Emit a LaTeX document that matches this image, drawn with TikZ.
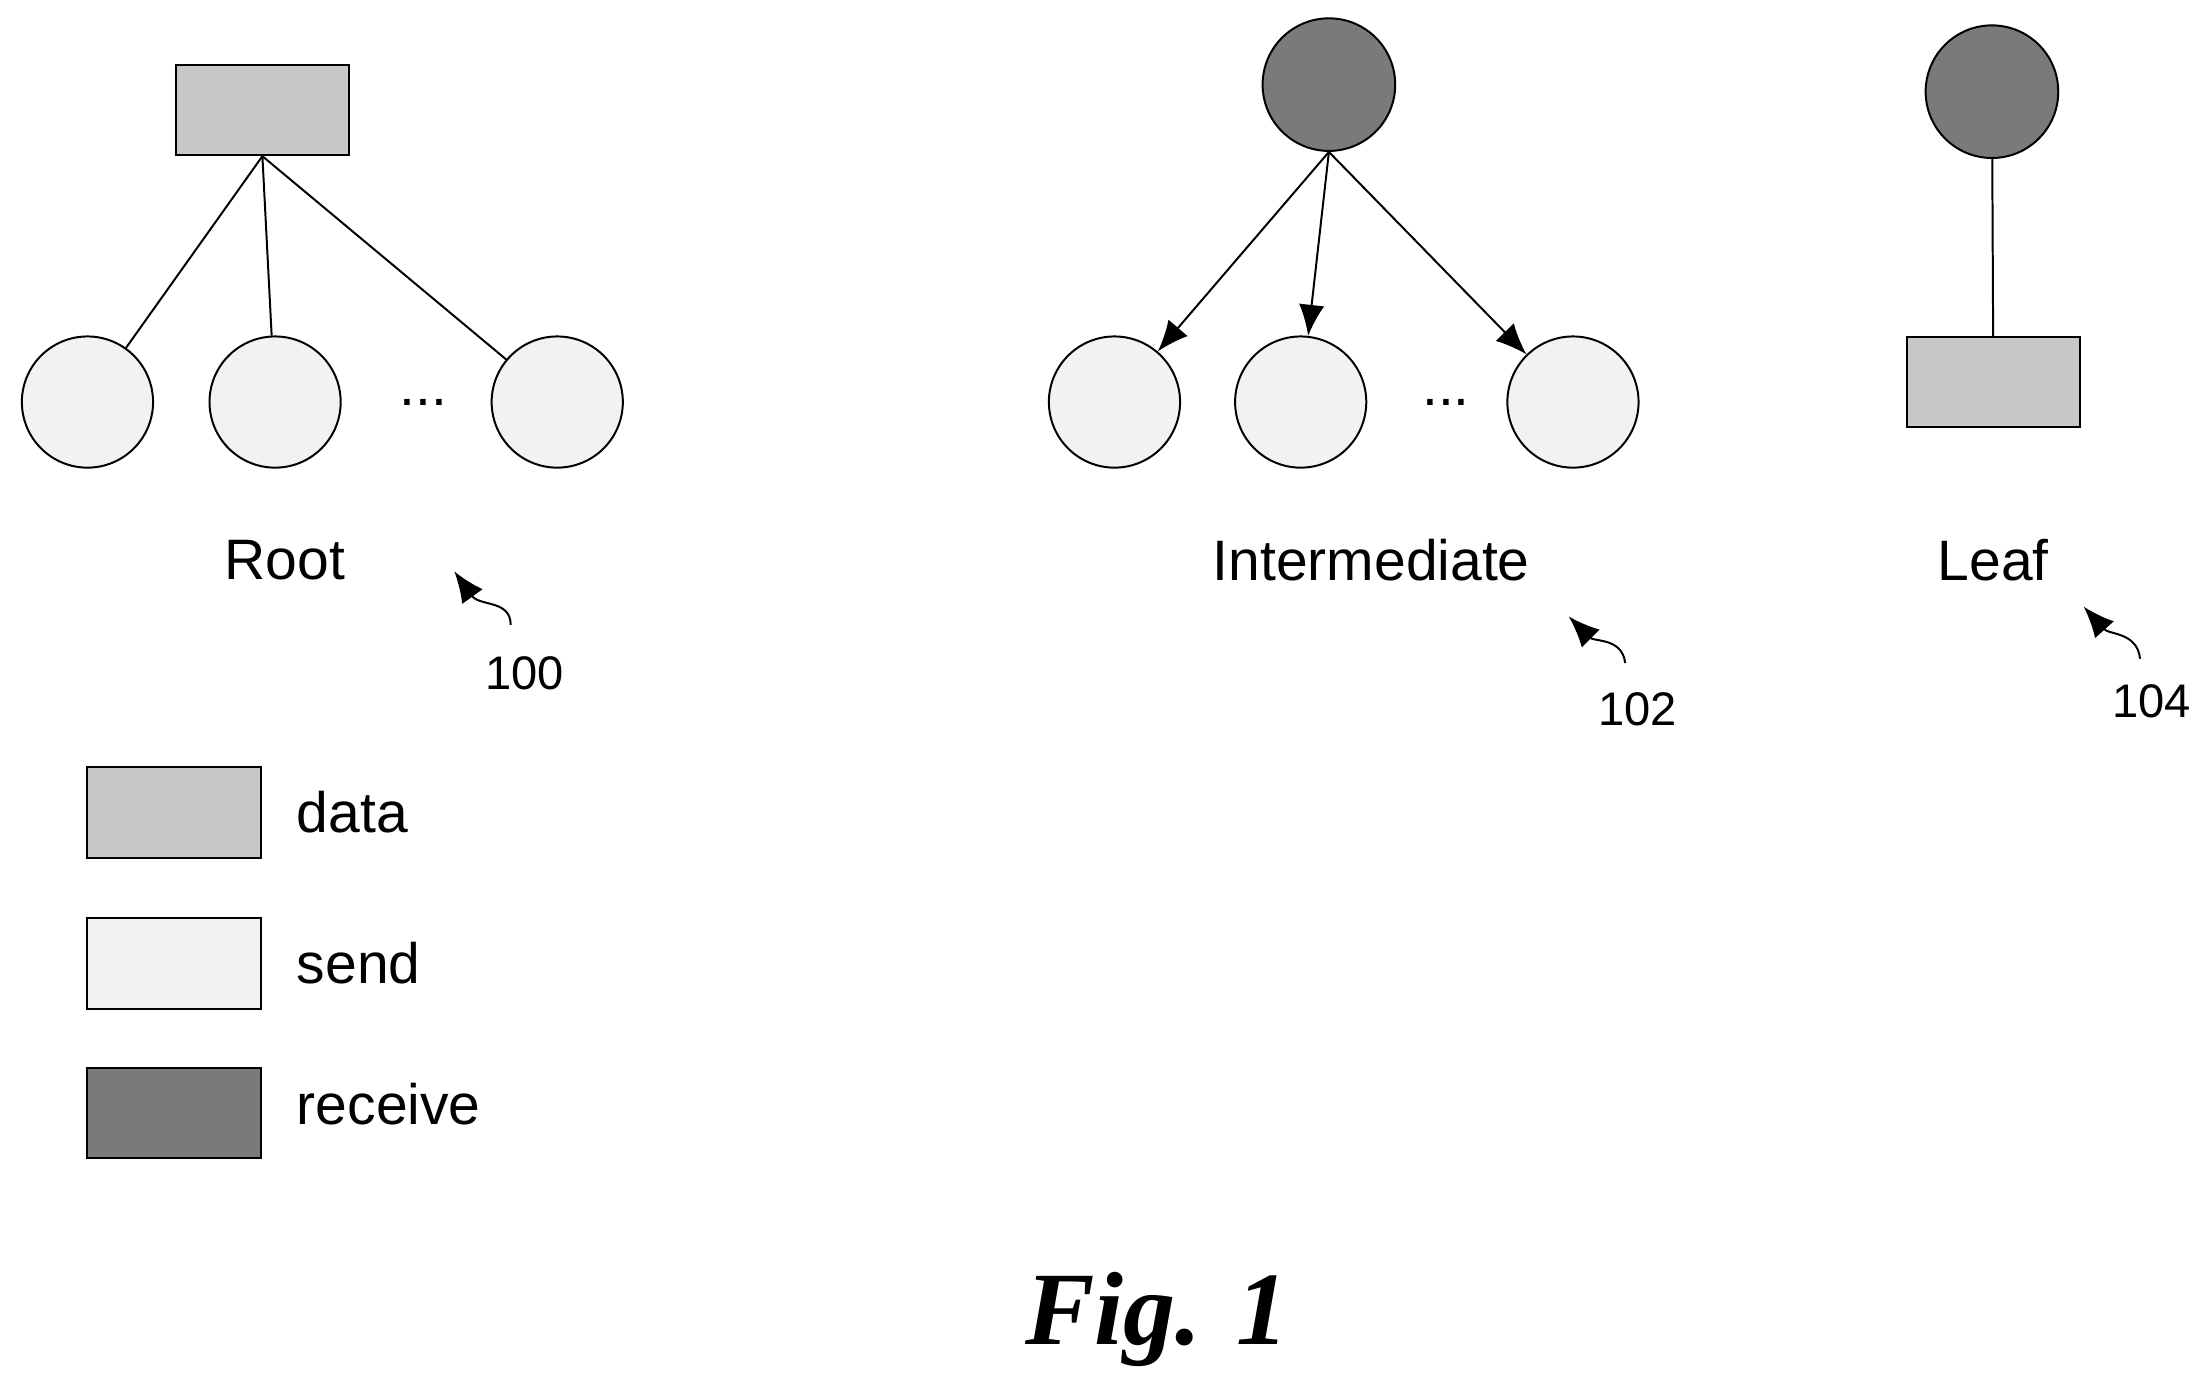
\documentclass[tikz,border=0pt]{standalone}
\usepackage{fontspec}
\setmainfont{Liberation Sans}
\newfontfamily\figfont{Liberation Serif}
\usetikzlibrary{positioning,arrows.meta}
\definecolor{datagray}{HTML}{C8C8C8}
\definecolor{sendgray}{HTML}{F2F2F2}
\definecolor{recvgray}{HTML}{7A7A7A}
\tikzset{
  datanode/.style={draw, fill=datagray, minimum width=1.23cm, minimum height=0.64cm},
  sendnode/.style={draw, circle, fill=sendgray, minimum size=0.93cm, inner sep=0pt},
  recvnode/.style={draw, circle, fill=recvgray, minimum size=0.94cm, inner sep=0pt},
  lbl/.style={font=\fontsize{11.5}{13}\selectfont},
  num/.style={font=\fontsize{9.5}{11}\selectfont},
  pointer/.style={-{Latex[length=2.2mm,width=1.8mm]}},
}
\begin{document}
\begin{tikzpicture}
    \useasboundingbox (0,0) rectangle (15.68,-9.88);
    % root
    \node (r0) [datanode] at (1.86,-0.78) {};
    \node (r1) [sendnode] at (0.62,-2.85) {};
    \node (r2) [sendnode] at (1.95,-2.85) {};
    \node (r3) [sendnode] at (3.95,-2.85) {};
    \node (rd) [lbl] at (3.0,-2.85) {...};
    \node (rl) [lbl] at (2.02,-3.97) {Root};
    \draw (r0.south) -- (r1);
    \draw (r0.south) -- (r2);
    \draw (r0.south) -- (r3);
    % intermediate
    \node (i0) [recvnode] at (9.42,-0.60) {};
    \node (i1) [sendnode] at (7.90,-2.85) {};
    \node (i2) [sendnode] at (9.22,-2.85) {};
    \node (i3) [sendnode] at (11.15,-2.85) {};
    \node (id) [lbl] at (10.25,-2.85) {...};
    \node (il) [lbl] at (9.72,-3.97) {Intermediate};
    \draw [pointer] (i0.south) -- (i1);
    \draw [pointer] (i0.south) -- (i2);
    \draw [pointer] (i0.south) -- (i3);
    % leaf
    \node (l0) [recvnode] at (14.12,-0.65) {};
    \node (l1) [datanode] at (14.13,-2.71) {};
    \node (ll) [lbl] at (14.13,-3.97) {Leaf};
    \draw (l0) -- (l1);
    % reference numerals
    \node (n100) [num] at (3.72,-4.77) {100};
    \node (n102) [num] at (11.61,-5.03) {102};
    \node (n104) [num] at (15.25,-4.97) {104};
    \coordinate (a100) at (3.22,-4.05);
    \coordinate (a102) at (11.12,-4.37);
    \coordinate (a104) at (14.77,-4.30);
    \draw [pointer] (3.62,-4.43) .. controls (3.62,-4.25) and (3.40,-4.30) .. (a100);
    \draw [pointer] (11.52,-4.70) .. controls (11.50,-4.52) and (11.30,-4.55) .. (a102);
    \draw [pointer] (15.17,-4.67) .. controls (15.15,-4.48) and (14.95,-4.50) .. (a104);
    % legend
    \node (k1) [datanode] at (1.235,-5.76) {};
    \node (k2) [datanode, fill=sendgray] at (1.235,-6.83) {};
    \node (k3) [datanode, fill=recvgray] at (1.235,-7.89) {};
    \node [lbl, anchor=west] at (1.98,-5.76) {data};
    \node [lbl, anchor=west] at (1.98,-6.83) {send};
    \node [lbl, anchor=west] at (1.98,-7.83) {receive};
    % caption
    \node (fig) [font=\figfont\bfseries\itshape\fontsize{21}{24}\selectfont] at (8.20,-9.35) {Fig. 1};
\end{tikzpicture}
\end{document}
